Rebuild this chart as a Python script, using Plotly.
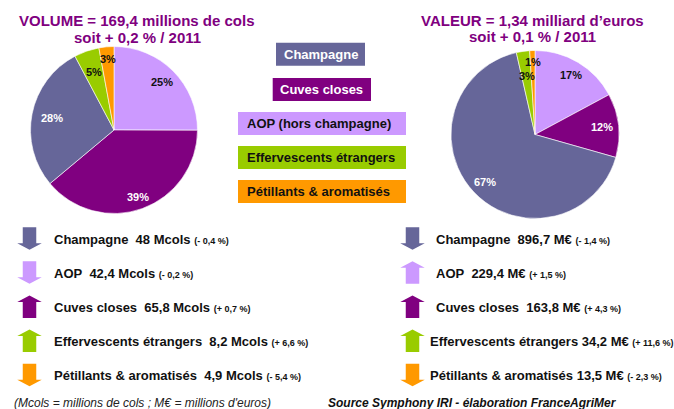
import math
import plotly.graph_objects as go

W, H = 674, 409
FONT = "Liberation Sans, Arial, sans-serif"

# ---------------- data ----------------
legend_labels = ["Champagne", "Cuves closes", "AOP (hors champagne)",
                 "Effervescents étrangers", "Pétillants & aromatisés"]

pie_order = ["AOP", "Cuves closes", "Champagne", "Effervescents étrangers", "Pétillants & aromatisés"]

list_names = ["Champagne", "AOP", "Cuves closes", "Effervescents étrangers", "Pétillants & aromatisés"]
volume_mcols = [48, 42.4, 65.8, 8.2, 4.9]
volume_change = [-0.4, -0.2, 0.7, 6.6, -5.4]
value_meur = [896.7, 229.4, 163.8, 34.2, 13.5]
value_change = [-1.4, 1.5, 4.3, 11.6, -2.3]

title_volume = ["VOLUME = 169,4 millions de cols", "soit + 0,2 % / 2011"]
title_value = ["VALEUR = 1,34 milliard d\u2019euros", "soit + 0,1 % / 2011"]
footnote = "(Mcols = millions de cols ; M\u20ac = millions d'euros)"
source = "Source Symphony IRI - élaboration FranceAgriMer"

# ---------------- styles ----------------
colors = {
    "Champagne": "#666699",
    "Cuves closes": "#800080",
    "AOP": "#CC99FF",
    "Effervescents étrangers": "#99CC00",
    "Pétillants & aromatisés": "#FF9900",
}
legend_color_keys = ["Champagne", "Cuves closes", "AOP", "Effervescents étrangers", "Pétillants & aromatisés"]
legend_text_colors = ["white", "white", "#111111", "#111111", "#111111"]
pie_text_colors = ["#111111", "white", "white", "#111111", "#111111"]
left_label_r = [0.81, 0.85, 0.76, 0.74, 0.85]
right_label_r = [0.83, 0.80, 0.82, 0.70, 0.86]
TITLE_COLOR = "#800080"

def fr(v):
    s = f"{v:g}"
    return s.replace(".", ",")

def fr_change(v):
    sign = "+" if v >= 0 else "-"
    return f"{sign} {abs(v):.1f}".replace(".", ",") + " %"

vol_by_name = dict(zip(list_names, volume_mcols))
val_by_name = dict(zip(list_names, value_meur))
left_vals = [vol_by_name[n] for n in pie_order]
right_vals = [val_by_name[n] for n in pie_order]
pie_colors = [colors[n] for n in pie_order]

# pie geometry (pixels)
L_CX, L_CY, L_R = 114, 130, 83.5
R_CX, R_CY, R_R = 535, 134.5, 84

def dom(cx, cy, r):
    return dict(x=[(cx - r) / W, (cx + r) / W], y=[1 - (cy + r) / H, 1 - (cy - r) / H])

fig = go.Figure()
for vals, (cx, cy, r) in [(left_vals, (L_CX, L_CY, L_R)), (right_vals, (R_CX, R_CY, R_R))]:
    fig.add_trace(go.Pie(
        labels=pie_order, values=vals, sort=False, direction="clockwise", rotation=0,
        marker=dict(colors=pie_colors, line=dict(color="white", width=0.6)),
        textinfo="none", hoverinfo="label+percent", domain=dom(cx, cy, r),
        showlegend=False,
    ))

annotations = []
shapes = []

def ann(text, x, y, size, color="#111111", xanchor="left", bold=True, italic=False):
    t = text
    if bold:
        t = f"<b>{t}</b>"
    if italic:
        t = f"<i>{t}</i>"
    annotations.append(dict(text=t, x=x, y=y, xref="x", yref="y", showarrow=False,
                            xanchor=xanchor, yanchor="middle",
                            font=dict(family=FONT, size=size, color=color)))

# pie percentage labels computed from the data
def pie_labels(vals, cx, cy, r, ks):
    tot = sum(vals)
    cum = 0
    for v, k, c in zip(vals, ks, pie_text_colors):
        mid = (cum + v / 2) / tot * 2 * math.pi
        cum += v
        x = cx + k * r * math.sin(mid)
        y = cy - k * r * math.cos(mid)
        ann(f"{round(100 * v / tot)}%", x, y, 11, c, xanchor="center")

pie_labels(left_vals, L_CX, L_CY, L_R, left_label_r)
pie_labels(right_vals, R_CX, R_CY, R_R, right_label_r)

# titles
ann(title_volume[0], 137, 20, 15, TITLE_COLOR, xanchor="center")
ann(title_volume[1], 137, 37, 15, TITLE_COLOR, xanchor="center")
ann(title_value[0], 532, 20, 15, TITLE_COLOR, xanchor="center")
ann(title_value[1], 532, 36.5, 15, TITLE_COLOR, xanchor="center")

# custom legend boxes
box_x = [(276, 365), (272.7, 371), (238, 406), (238, 406), (238, 406)]
box_y = [(42.7, 65.7), (78, 101), (112, 135), (146, 169), (180, 203)]
for lab, key, tc, (x0, x1), (y0, y1) in zip(legend_labels, legend_color_keys, legend_text_colors, box_x, box_y):
    shapes.append(dict(type="rect", xref="x", yref="y", x0=x0, x1=x1, y0=y0, y1=y1,
                       fillcolor=colors[key], line=dict(width=0), layer="below"))
    if x1 - x0 < 120:
        ann(lab, (x0 + x1) / 2, (y0 + y1) / 2, 13, tc, xanchor="center")
    else:
        ann(lab, 245, (y0 + y1) / 2, 13, tc)

# arrows
ARROW_W, SHAFT_W, ARROW_H, HEAD_H = 24.5, 13.5, 22.5, 6.5

def arrow(cx, cy, up, color):
    hw, sw, hh = ARROW_W / 2, SHAFT_W / 2, ARROW_H / 2
    if up:
        tip, base, bottom = cy - hh, cy - hh + HEAD_H, cy + hh
    else:
        tip, base, bottom = cy + hh, cy + hh - HEAD_H, cy - hh
    path = (f"M {cx - sw} {bottom} L {cx + sw} {bottom} L {cx + sw} {base} L {cx + hw} {base} "
            f"L {cx} {tip} L {cx - hw} {base} L {cx - sw} {base} Z")
    shapes.append(dict(type="path", xref="x", yref="y", path=path, fillcolor=color, line=dict(width=0)))

ROW_Y0, ROW_STEP = 238.5, 34.1
left_sep = ["\u00a0\u00a0"] * 5
right_sep = ["\u00a0\u00a0", "\u00a0\u00a0", "\u00a0\u00a0", " ", " "]
right_text_x = [434, 434, 434, 428, 428]
for i, name in enumerate(list_names):
    y = ROW_Y0 + ROW_STEP * i
    col = colors[name]
    arrow(29.5, y, volume_change[i] > 0, col)
    arrow(412.5, y, value_change[i] > 0, col)
    t1 = (f"<b>{name}{left_sep[i]}{fr(volume_mcols[i])} Mcols</b> "
          f"<span style='font-size:9px'><b>({fr_change(volume_change[i])})</b></span>")
    ann(t1, 52, y + 0.5, 13, bold=False)
    t2 = (f"<b>{name}{right_sep[i]}{fr(value_meur[i])} M\u20ac</b> "
          f"<span style='font-size:9px'><b>({fr_change(value_change[i])})</b></span>")
    ann(t2, right_text_x[i], y + 0.5, 13, bold=False)

ann(footnote, 12, 402.5, 12, "#222222", bold=False, italic=True)
ann(source, 326, 402.5, 12, "#111111", bold=True, italic=True)

fig.update_layout(
    width=W, height=H, margin=dict(l=0, r=0, t=0, b=0),
    paper_bgcolor="white", plot_bgcolor="rgba(0,0,0,0)",
    xaxis=dict(range=[0, W], visible=False, fixedrange=True),
    yaxis=dict(range=[H, 0], visible=False, fixedrange=True),
    annotations=annotations, shapes=shapes, showlegend=False,
)
fig.write_html("out.html", config={"displayModeBar": False},
               post_script="document.body.style.margin='0';document.body.style.padding='0';")
